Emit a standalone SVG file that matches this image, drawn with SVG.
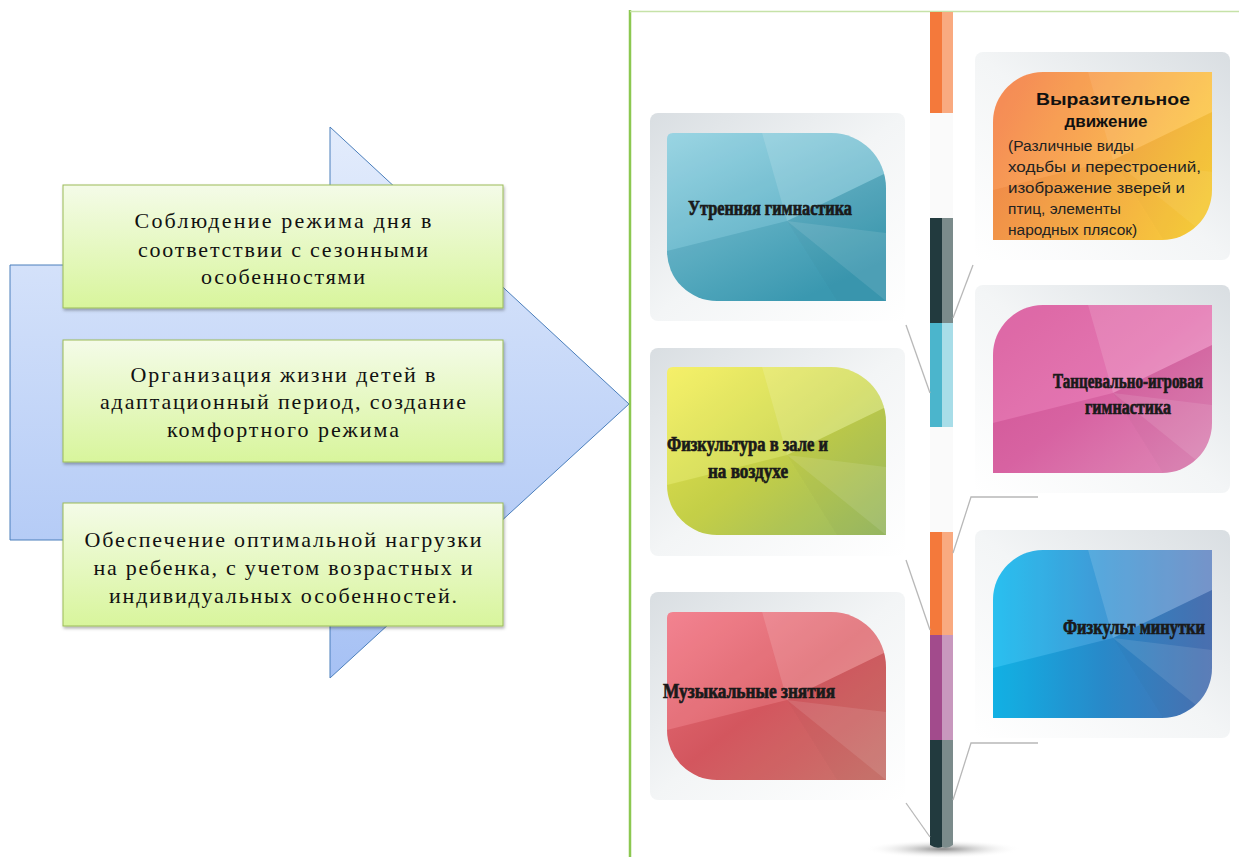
<svg xmlns="http://www.w3.org/2000/svg" xmlns:xlink="http://www.w3.org/1999/xlink" width="1239" height="857" viewBox="0 0 1239 857">
<style>
.lt{font-family:"Liberation Serif","Times New Roman",serif;font-size:22px;fill:#111;text-anchor:middle}
.ct{font-family:"Liberation Serif","Times New Roman",serif;font-size:20px;font-weight:bold;fill:#1a1a1a;stroke:#1a1a1a;stroke-width:0.7}
.rt{font-family:"Liberation Sans",Arial,sans-serif;font-size:15.5px;fill:#222}
.rh{font-family:"Liberation Sans",Arial,sans-serif;font-size:17px;font-weight:bold;fill:#111;text-anchor:middle}
.gbox{fill:url(#gGreen);stroke:#9bbb59;stroke-width:1;filter:url(#sh)}
.conn{stroke:#b8b8b8;stroke-width:1.3;fill:none}
</style>
<defs>
<linearGradient id="gArrow" x1="0" y1="0" x2="0" y2="1"><stop offset="0" stop-color="#e3ecfc"/><stop offset="1" stop-color="#a6c1f4"/></linearGradient>
<linearGradient id="gGreen" x1="0" y1="0" x2="0" y2="1"><stop offset="0" stop-color="#f4fbe8"/><stop offset="1" stop-color="#d8f59c"/></linearGradient>
<filter id="sh" x="-5%" y="-10%" width="112%" height="125%"><feDropShadow dx="1" dy="2" stdDeviation="1.5" flood-color="#000" flood-opacity="0.3"/></filter>
<linearGradient id="gFrameL" x1="0" y1="0" x2="1" y2="1"><stop offset="0" stop-color="#d9dee2"/><stop offset="0.5" stop-color="#f3f5f6"/><stop offset="1" stop-color="#ffffff"/></linearGradient>
<linearGradient id="gFrameR" x1="1" y1="0" x2="0" y2="1"><stop offset="0" stop-color="#d9dee2"/><stop offset="0.5" stop-color="#f3f5f6"/><stop offset="1" stop-color="#ffffff"/></linearGradient>
<linearGradient id="gTeal" x1="0" y1="0" x2="0.6" y2="1"><stop offset="0" stop-color="#8fd0e0"/><stop offset="1" stop-color="#3d9fb8"/></linearGradient>
<linearGradient id="gLime" x1="0" y1="0" x2="1" y2="1"><stop offset="0" stop-color="#f5ef58"/><stop offset="0.5" stop-color="#cdd84a"/><stop offset="1" stop-color="#9fc168"/></linearGradient>
<linearGradient id="gRed" x1="0" y1="0" x2="1" y2="1"><stop offset="0" stop-color="#f27584"/><stop offset="0.5" stop-color="#dc5a62"/><stop offset="1" stop-color="#d27a72"/></linearGradient>
<linearGradient id="gOrange" x1="0" y1="0.3" x2="1" y2="0.7"><stop offset="0" stop-color="#f5864c"/><stop offset="0.5" stop-color="#f9ab48"/><stop offset="1" stop-color="#fdd03c"/></linearGradient>
<linearGradient id="gPink" x1="0" y1="0" x2="1" y2="1"><stop offset="0" stop-color="#d9559a"/><stop offset="0.5" stop-color="#e066a8"/><stop offset="1" stop-color="#e890c0"/></linearGradient>
<linearGradient id="gBlue" x1="0" y1="0.5" x2="1" y2="0.5"><stop offset="0" stop-color="#12b9ee"/><stop offset="0.5" stop-color="#2a8fd2"/><stop offset="1" stop-color="#4f76ba"/></linearGradient>
<radialGradient id="gShadow"><stop offset="0" stop-color="#8a8a8a"/><stop offset="1" stop-color="#ffffff" stop-opacity="0"/></radialGradient>
<path id="leafL" d="M6 0 H164 A55 55 0 0 1 219 55 V168 H50 A50 50 0 0 1 0 118 V6 Q0 0 6 0 Z"/>
<path id="leafR" d="M50 0 H219 V118 A50 50 0 0 1 169 168 H0 V50 A50 50 0 0 1 50 0 Z"/>
<clipPath id="cL"><use xlink:href="#leafL"/></clipPath>
<clipPath id="cR"><use xlink:href="#leafR"/></clipPath>
<g id="facets">
<polygon points="95,0 219,0 219,40 120,88" fill="#fff" fill-opacity="0.22"/>
<polygon points="0,0 95,0 120,88 0,118" fill="#fff" fill-opacity="0.1"/>
<polygon points="120,88 219,40 219,168 170,168" fill="#000" fill-opacity="0.06"/>
<polygon points="0,118 120,88 170,168 0,168" fill="#000" fill-opacity="0.04"/>
<polygon points="120,88 219,100 219,168" fill="#fff" fill-opacity="0.1"/>
</g>
</defs>
<rect width="1239" height="857" fill="#fff"/>

<g id="arrow">
<path d="M10 265 H330 V127 L629 404 L330 678 V540 H10 Z" fill="url(#gArrow)" stroke="#4a7ebb" stroke-width="1"/>
</g>
<g id="box1">
<rect x="63" y="185" width="440" height="123" class="gbox"/>
<text class="lt" x="283" y="228" textLength="297" lengthAdjust="spacing">Соблюдение режима дня  в</text>
<text class="lt" x="283" y="257" textLength="290" lengthAdjust="spacing">соответствии с сезонными</text>
<text class="lt" x="283" y="284" textLength="164" lengthAdjust="spacing">особенностями</text>
</g>
<g id="box2">
<rect x="63" y="340" width="440" height="122" class="gbox"/>
<text class="lt" x="283" y="382" textLength="305" lengthAdjust="spacing">Организация жизни детей в</text>
<text class="lt" x="283" y="409" textLength="366" lengthAdjust="spacing">адаптационный период, создание</text>
<text class="lt" x="283" y="437" textLength="232" lengthAdjust="spacing">комфортного режима</text>
</g>
<g id="box3">
<rect x="63" y="503" width="440" height="123" class="gbox"/>
<text class="lt" x="283" y="547" textLength="397" lengthAdjust="spacing">Обеспечение оптимальной нагрузки</text>
<text class="lt" x="283" y="575" textLength="379" lengthAdjust="spacing">на ребенка, с учетом возрастных и</text>
<text class="lt" x="283" y="603" textLength="348" lengthAdjust="spacing">индивидуальных особенностей.</text>
</g>

<g id="panel">
<line x1="630" y1="10" x2="630" y2="857" stroke="#8cc850" stroke-width="2.5"/>
<line x1="630" y1="11.5" x2="1239" y2="11.5" stroke="#c6e2a8" stroke-width="1.5"/>
</g>

<g id="pole">
<ellipse cx="943" cy="849" rx="78" ry="9" fill="url(#gShadow)"/>
<rect x="930" y="113" width="23" height="105" fill="#fafafa"/>
<rect x="930" y="427" width="23" height="105" fill="#fafafa"/>
<rect x="930" y="12" width="12" height="101" fill="#f4793b"/><rect x="942" y="12" width="11" height="101" fill="#f9aa80"/>
<rect x="930" y="218" width="12" height="105" fill="#223a3e"/><rect x="942" y="218" width="11" height="105" fill="#7b8b8b"/>
<rect x="930" y="323" width="12" height="104" fill="#4bb5cc"/><rect x="942" y="323" width="11" height="104" fill="#a8dde8"/>
<rect x="930" y="532" width="12" height="103" fill="#f4793b"/><rect x="942" y="532" width="11" height="103" fill="#f9aa80"/>
<rect x="930" y="635" width="12" height="105" fill="#a24b8c"/><rect x="942" y="635" width="11" height="105" fill="#c898be"/>
<path d="M930 740 H942 V847 Q936 849 930 845 Z" fill="#223a3e"/><path d="M942 740 H953 V845 Q948 849 942 847 Z" fill="#7b8b8b"/>
</g>

<g id="connectors">
<polyline class="conn" points="953,318 973,265"/>
<polyline class="conn" points="906,325 930,393"/>
<polyline class="conn" points="953,553 971,497 1038,497"/>
<polyline class="conn" points="906,560 930,630"/>
<polyline class="conn" points="953,800 971,743 1038,743"/>
<polyline class="conn" points="906,803 930,837"/>
</g>

<g id="card-morning">
<rect x="650" y="113" width="255" height="208" rx="8" fill="url(#gFrameL)"/>
<g transform="translate(667,133)"><use xlink:href="#leafL" fill="url(#gTeal)"/><g clip-path="url(#cL)"><use xlink:href="#facets"/></g></g>
<text class="ct" x="688" y="215" textLength="164" lengthAdjust="spacingAndGlyphs">Утренняя гимнастика</text>
</g>
<g id="card-pe">
<rect x="650" y="348" width="255" height="208" rx="8" fill="url(#gFrameL)"/>
<g transform="translate(667,367)"><use xlink:href="#leafL" fill="url(#gLime)"/><g clip-path="url(#cL)"><use xlink:href="#facets"/></g></g>
<text class="ct" x="667" y="451" textLength="161" lengthAdjust="spacingAndGlyphs">Физкультура в зале и</text>
<text class="ct" x="708" y="478" textLength="80" lengthAdjust="spacingAndGlyphs">на воздухе</text>
</g>
<g id="card-music">
<rect x="650" y="592" width="255" height="208" rx="8" fill="url(#gFrameL)"/>
<g transform="translate(667,612)"><use xlink:href="#leafL" fill="url(#gRed)"/><g clip-path="url(#cL)"><use xlink:href="#facets"/></g></g>
<text class="ct" x="663" y="698" textLength="172" lengthAdjust="spacingAndGlyphs">Музыкальные знятия</text>
</g>
<g id="card-expressive">
<rect x="975" y="52" width="255" height="208" rx="8" fill="url(#gFrameR)"/>
<g transform="translate(993,72)"><use xlink:href="#leafR" fill="url(#gOrange)"/><g clip-path="url(#cR)"><use xlink:href="#facets" opacity="0.6"/></g></g>
<text class="rh" x="1113" y="105" textLength="154" lengthAdjust="spacingAndGlyphs">Выразительное</text>
<text class="rh" x="1106" y="127">движение</text>
<text class="rt" x="1008" y="151">(Различные виды</text>
<text class="rt" x="1008" y="172" textLength="193" lengthAdjust="spacingAndGlyphs">ходьбы и перестроений,</text>
<text class="rt" x="1008" y="193" textLength="177" lengthAdjust="spacingAndGlyphs">изображение зверей и</text>
<text class="rt" x="1008" y="214">птиц, элементы</text>
<text class="rt" x="1008" y="235">народных плясок)</text>
</g>
<g id="card-dance">
<rect x="975" y="285" width="255" height="208" rx="8" fill="url(#gFrameR)"/>
<g transform="translate(993,305)"><use xlink:href="#leafR" fill="url(#gPink)"/><g clip-path="url(#cR)"><use xlink:href="#facets"/></g></g>
<text class="ct" x="1053" y="388" textLength="150" lengthAdjust="spacingAndGlyphs">Танцевально-игровая</text>
<text class="ct" x="1085" y="414" textLength="86" lengthAdjust="spacingAndGlyphs">гимнастика</text>
</g>
<g id="card-minutes">
<rect x="975" y="530" width="255" height="208" rx="8" fill="url(#gFrameR)"/>
<g transform="translate(993,550)"><use xlink:href="#leafR" fill="url(#gBlue)"/><g clip-path="url(#cR)"><use xlink:href="#facets"/></g></g>
<text class="ct" x="1063" y="634" textLength="142" lengthAdjust="spacingAndGlyphs">Физкульт минутки</text>
</g>
</svg>
